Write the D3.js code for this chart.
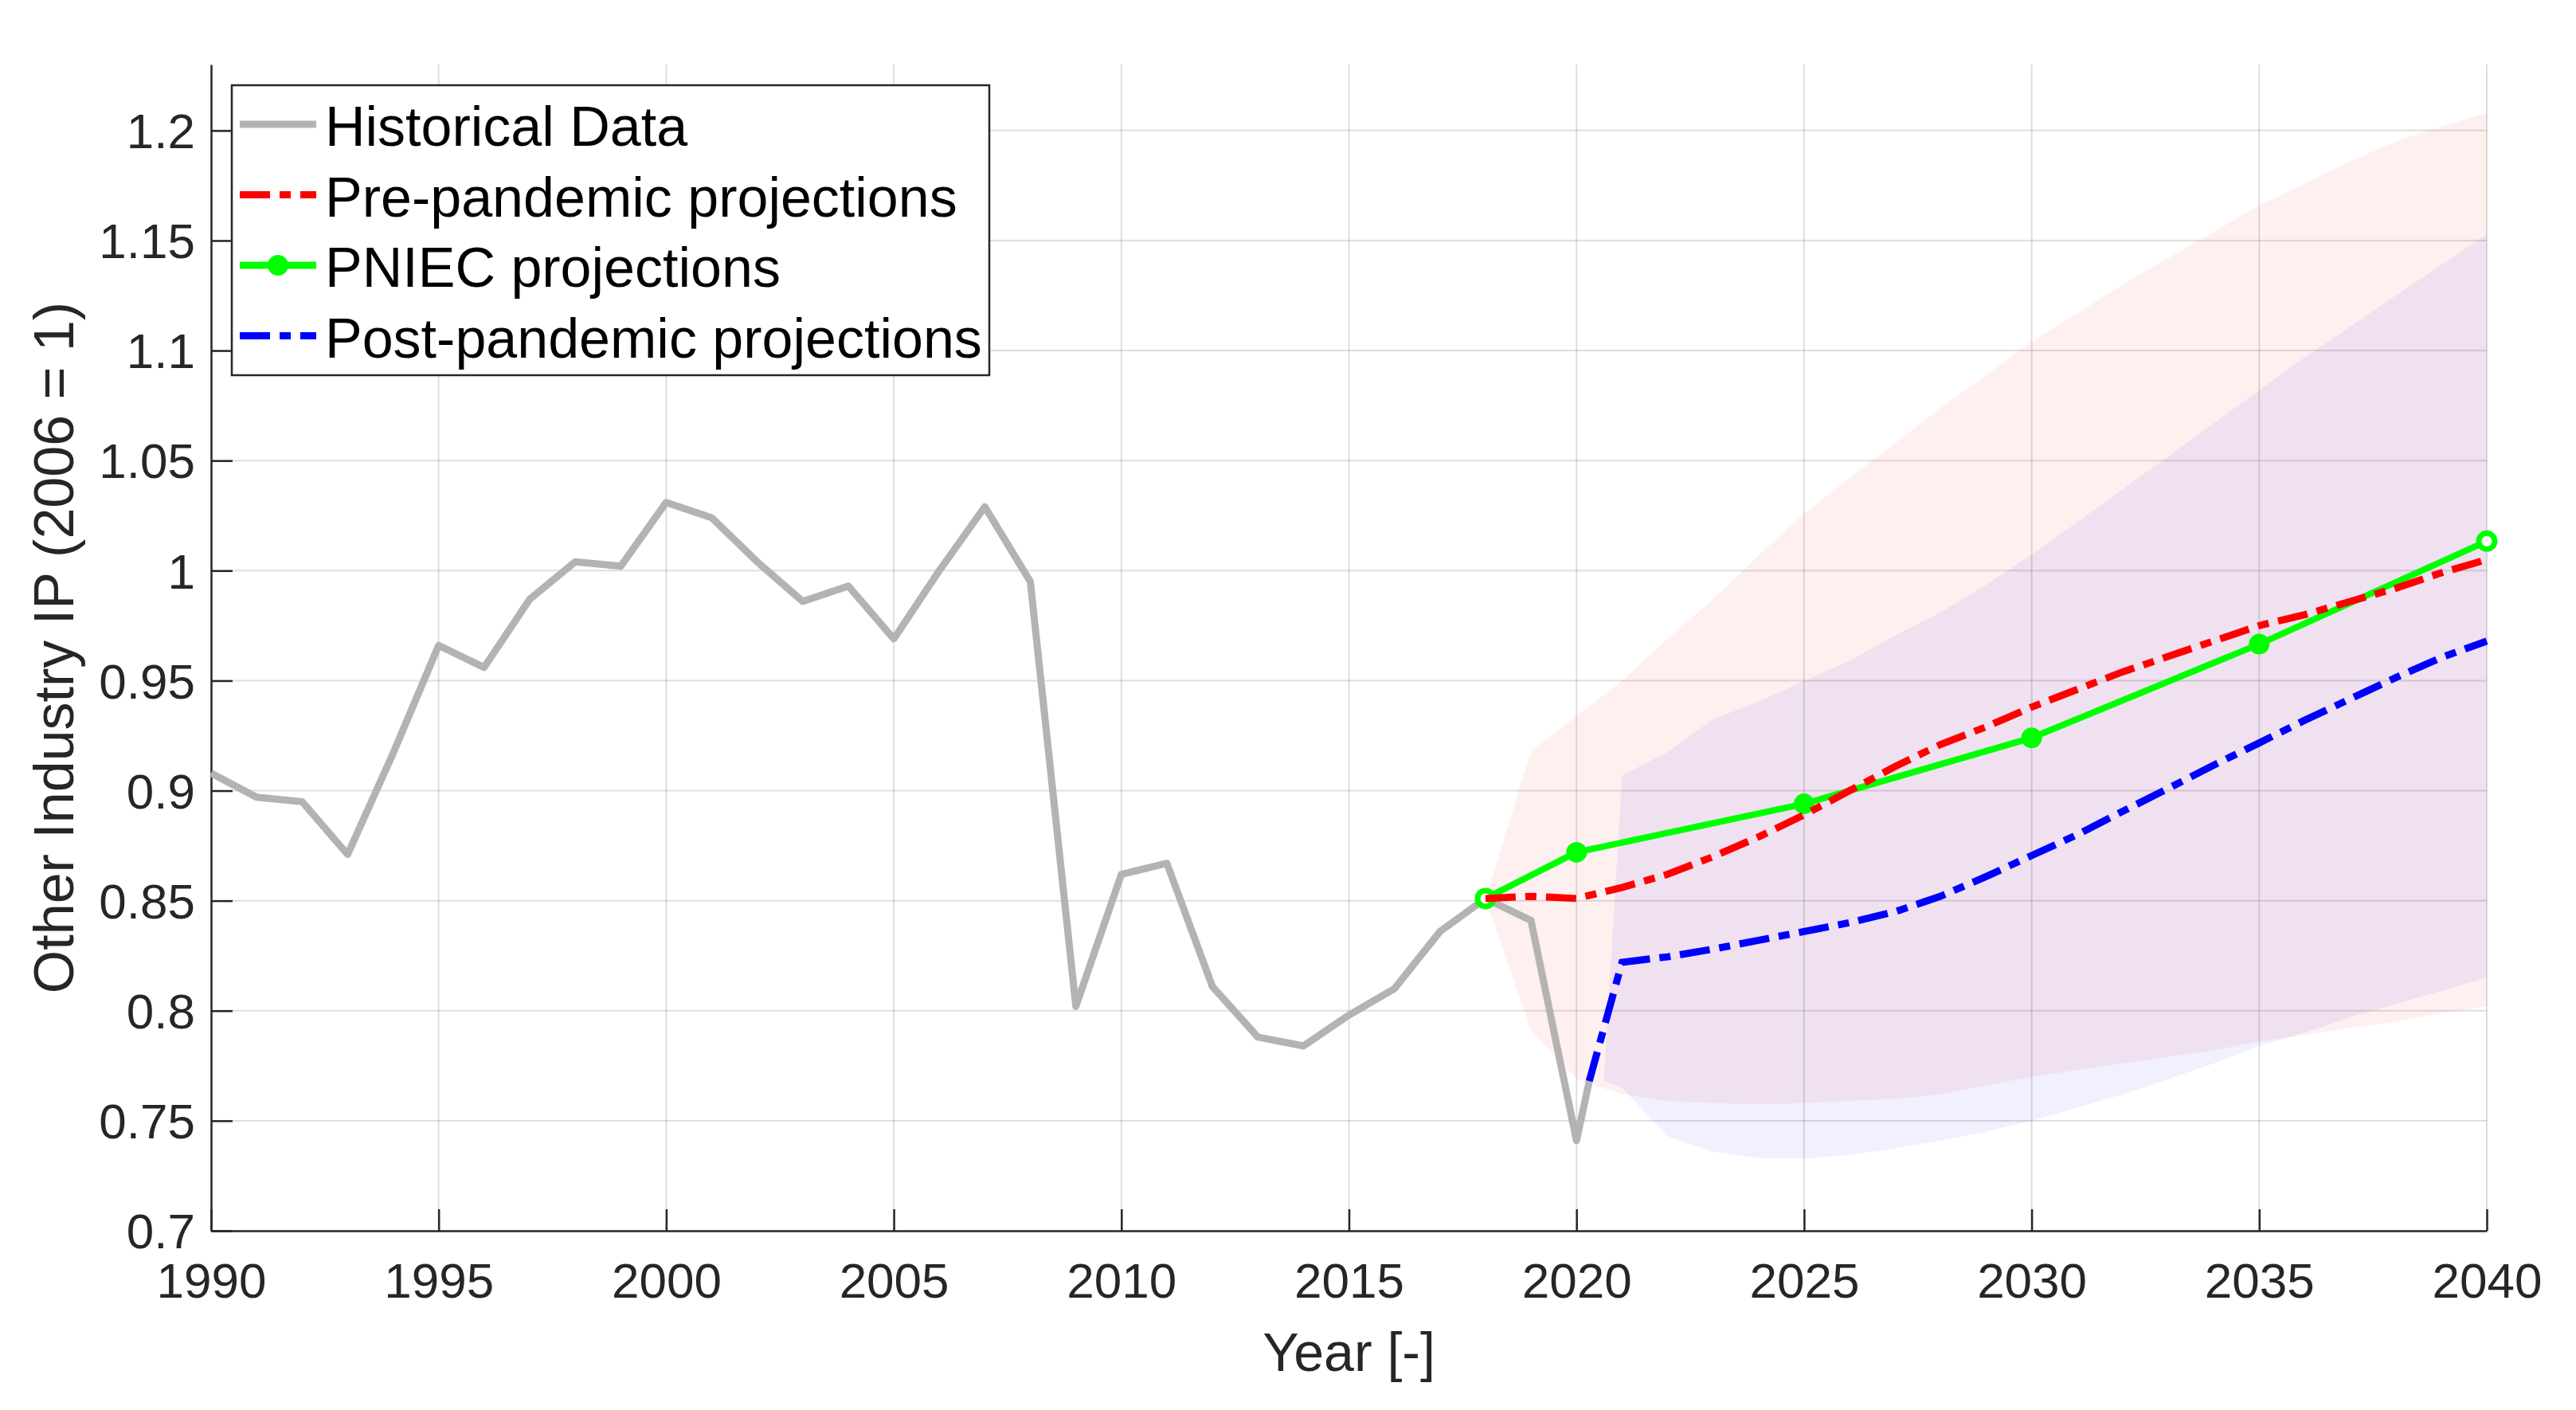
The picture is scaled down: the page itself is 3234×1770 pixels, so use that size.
<!DOCTYPE html>
<html>
<head>
<meta charset="utf-8">
<script src="https://cdn.jsdelivr.net/npm/d3@7"></script>
<style>
  body { margin: 0; background: #fff; }
  text { font-family: "Liberation Sans", Arial, sans-serif; }
</style>
</head>
<body>
<script>
// historical series (last point is the short grey stub that runs under the blue jump)
let histYears = [1990,1991,1992,1993,1994,1995,1996,1997,1998,1999,2000,2001,2002,2003,2004,2005,
  2006,2007,2008,2009,2010,2011,2012,2013,2014,2015,2016,2017,2018,2019,2020,2020.28];
let histValues = [0.908,0.897,0.895,0.871,0.917,0.966,0.956,0.987,1.004,1.002,1.031,1.024,1.004,0.986,0.993,0.969,
  1.000,1.029,0.995,0.802,0.862,0.867,0.811,0.788,0.784,0.798,0.810,0.836,0.851,0.841,0.741,0.768];

// pre-pandemic projection + band
let preYears = [2018,2019,2020,2021,2022,2023,2024,2025,2026,2027,2028,2029,2030,2031,2032,2033,2034,2035,2036,2037,2038,2039,2040];
let preValues = [0.851,0.852,0.851,0.856,0.862,0.870,0.879,0.889,0.900,0.911,0.921,0.929,0.938,0.946,0.954,0.961,0.968,0.975,0.980,0.986,0.992,0.999,1.005];
let preLower = [0.851,0.791,0.769,0.762,0.759,0.758,0.7575,0.758,0.759,0.760,0.762,0.766,0.770,0.773,0.776,0.779,0.782,0.786,0.789,0.792,0.795,0.799,0.802];
let preUpper = [0.851,0.918,0.934,0.950,0.969,0.987,1.007,1.026,1.042,1.058,1.074,1.089,1.104,1.117,1.130,1.142,1.154,1.166,1.176,1.186,1.195,1.202,1.208];

// PNIEC
let pniecYears = [2018,2020,2025,2030,2035,2040];
let pniecValues = [0.851,0.872,0.894,0.924,0.9666,1.0134];

// post-pandemic projection + band
let postYears = [2020.28,2021,2022,2023,2024,2025,2026,2027,2028,2029,2030,2031,2032,2033,2034,2035,2036,2037,2038,2039,2040];
let postValues = [0.768,0.822,0.8245,0.828,0.832,0.836,0.840,0.845,0.852,0.861,0.8705,0.880,0.8906,0.901,0.9116,0.9217,0.932,0.9417,0.9514,0.9605,0.968];
let postBandYears = [2020.6,2021,2022,2023,2024,2025,2026,2027,2028,2029,2030,2031,2032,2033,2034,2035,2036,2037,2038,2039,2040];
let postLower = [0.768,0.765,0.743,0.736,0.733,0.7327,0.7345,0.7375,0.741,0.745,0.750,0.756,0.762,0.769,0.776,0.784,0.790,0.797,0.803,0.809,0.815];
let postUpper = [0.768,0.907,0.9176,0.9325,0.9405,0.950,0.959,0.9706,0.981,0.9936,1.0074,1.022,1.037,1.052,1.067,1.082,1.097,1.111,1.125,1.139,1.153];

let xTicks = [1990,1995,2000,2005,2010,2015,2020,2025,2030,2035,2040];
let yTicks = [0.7,0.75,0.8,0.85,0.9,0.95,1,1.05,1.1,1.15,1.2];
let yTickLabels = ['0.7','0.75','0.8','0.85','0.9','0.95','1','1.05','1.1','1.15','1.2'];

let legendNames = ['Historical Data','Pre-pandemic projections','PNIEC projections','Post-pandemic projections'];

let w = 3234;
let h = 1770;
let m = { left: 265, right: 3122, top: 81, bottom: 1545 };
let dash = '38,12,14,12';

let svg = d3.select('body').append('svg')
  .attr('width', w)
  .attr('height', h);

let x = d3.scaleLinear().domain([1990, 2040]).range([m.left, m.right]);
let y = d3.scaleLinear().domain([0.7, 1.23]).range([m.bottom, m.top]);

const zip = (xs, ys) => xs.map((d, i) => ({ year: d, v: ys[i] }));
const band = (xs, lo, hi) => xs.map((d, i) => ({ year: d, lo: lo[i], hi: hi[i] }));

let area = d3.area()
  .x(d => x(d.year))
  .y0(d => y(d.lo))
  .y1(d => y(d.hi));
let line = d3.line()
  .x(d => x(d.year))
  .y(d => y(d.v));

// shaded bands
svg.append('path')
  .datum(band(preYears, preLower, preUpper))
  .attr('d', area)
  .attr('fill', 'rgb(255,0,0)')
  .attr('fill-opacity', 0.06);
svg.append('path')
  .datum(band(postBandYears, postLower, postUpper))
  .attr('d', area)
  .attr('fill', 'rgb(0,0,255)')
  .attr('fill-opacity', 0.06);

// grid (drawn over the bands, like matlab)
let grid = svg.append('g').attr('stroke', '#000').attr('stroke-opacity', 0.13).attr('stroke-width', 2);
grid.selectAll('.vg').data(xTicks.slice(1)).enter()
  .append('line')
  .attr('x1', d => x(d)).attr('x2', d => x(d))
  .attr('y1', m.top).attr('y2', m.bottom);
grid.selectAll('.hg').data(yTicks.slice(1)).enter()
  .append('line')
  .attr('x1', m.left).attr('x2', m.right)
  .attr('y1', d => y(d)).attr('y2', d => y(d));

// axes
let xAxis = d3.axisBottom(x).tickValues(xTicks).tickSizeInner(-27).tickSizeOuter(0).tickPadding(40).tickFormat(d3.format('d'));
let yAxis = d3.axisLeft(y).tickValues(yTicks).tickSizeInner(-27).tickSizeOuter(0).tickPadding(20)
  .tickFormat((d, i) => yTickLabels[i]);

let gx = svg.append('g').attr('transform', `translate(0,${m.bottom})`).call(xAxis);
let gy = svg.append('g').attr('transform', `translate(${m.left},0)`).call(yAxis);
[gx, gy].forEach(g => {
  g.select('.domain').attr('stroke', '#262626').attr('stroke-width', 2.5);
  g.selectAll('.tick line').attr('stroke', '#262626').attr('stroke-width', 2.5);
  g.selectAll('.tick text').attr('fill', '#262626').style('font-size', '62px')
    .style('font-family', '"Liberation Sans", Arial, sans-serif');
});
gx.selectAll('.tick text').attr('dy', '0.71em');
gy.selectAll('.tick text').attr('dy', '0.35em');

// axis labels
svg.append('text')
  .attr('x', (m.left + m.right) / 2)
  .attr('y', 1721)
  .attr('text-anchor', 'middle')
  .attr('fill', '#262626')
  .style('font-size', '68px')
  .text('Year [-]');
svg.append('text')
  .attr('transform', `translate(92,${(m.top + m.bottom) / 2}) rotate(-90)`)
  .attr('text-anchor', 'middle')
  .attr('fill', '#262626')
  .style('font-size', '70px')
  .text('Other Industry IP (2006 = 1)');

// lines
svg.append('path')
  .datum(zip(histYears, histValues))
  .attr('d', line)
  .attr('fill', 'none')
  .attr('stroke', '#b3b3b3')
  .attr('stroke-width', 9)
  .attr('stroke-linejoin', 'round');

svg.append('path')
  .datum(zip(pniecYears, pniecValues))
  .attr('d', line)
  .attr('fill', 'none')
  .attr('stroke', '#00ff00')
  .attr('stroke-width', 8);
svg.selectAll('.pniec-dot')
  .data(zip(pniecYears, pniecValues))
  .enter()
    .append('circle')
    .attr('cx', d => x(d.year))
    .attr('cy', d => y(d.v))
    .attr('r', (d, i) => (i === 0 || i === pniecYears.length - 1) ? 10 : 13)
    .attr('fill', (d, i) => (i === 0 || i === pniecYears.length - 1) ? '#fff' : '#00ff00')
    .attr('stroke', '#00ff00')
    .attr('stroke-width', (d, i) => (i === 0 || i === pniecYears.length - 1) ? 7 : 0);

svg.append('path')
  .datum(zip(preYears, preValues))
  .attr('d', line)
  .attr('fill', 'none')
  .attr('stroke', '#ff0000')
  .attr('stroke-width', 9)
  .attr('stroke-dasharray', dash);

svg.append('path')
  .datum(zip(postYears, postValues))
  .attr('d', line)
  .attr('fill', 'none')
  .attr('stroke', '#0000ff')
  .attr('stroke-width', 9)
  .attr('stroke-dasharray', dash);

// legend
let lg = svg.append('g');
lg.append('rect')
  .attr('x', 291).attr('y', 107)
  .attr('width', 951).attr('height', 364)
  .attr('fill', '#fff')
  .attr('stroke', '#262626')
  .attr('stroke-width', 2.5);

let legendStyles = [
  { color: '#b3b3b3', dash: null, dot: false },
  { color: '#ff0000', dash: dash, dot: false },
  { color: '#00ff00', dash: null, dot: true },
  { color: '#0000ff', dash: dash, dot: false }
];
let rowY = i => 156 + i * 88.5;

lg.selectAll('.lg-line')
  .data(legendStyles)
  .enter()
    .append('line')
    .attr('x1', 301).attr('x2', 397)
    .attr('y1', (d, i) => rowY(i)).attr('y2', (d, i) => rowY(i))
    .attr('stroke', d => d.color)
    .attr('stroke-width', 9)
    .attr('stroke-dasharray', d => d.dash);
lg.selectAll('.lg-dot')
  .data(legendStyles.filter(d => d.dot))
  .enter()
    .append('circle')
    .attr('cx', 349).attr('cy', rowY(2))
    .attr('r', 13)
    .attr('fill', d => d.color);
lg.selectAll('.lg-text')
  .data(legendNames)
  .enter()
    .append('text')
    .attr('x', 408)
    .attr('y', (d, i) => rowY(i) + 27)
    .attr('fill', '#000')
    .style('font-size', '70px')
    .text(d => d);
</script>
</body>
</html>
